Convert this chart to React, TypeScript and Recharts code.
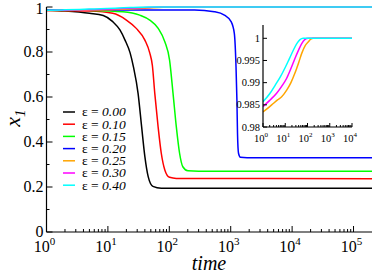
import React from 'react';
import { LineChart, Line, XAxis, YAxis } from 'recharts';

// series labels and colours (xmgrace palette)
const epsLabels = ['0.00', '0.10', '0.15', '0.20', '0.25', '0.30', '0.40'];
const colors = ['#000000', '#ff0000', '#00ff00', '#0000ff', '#ffa500', '#ff00ff', '#00ffff'];

// time points and x1 values
const tEps000 = [1, 2, 5, 8.4, 12, 15.7, 19, 23, 26, 31, 35.4, 40, 45.3, 54, 74, 200000];
const xEps000 = [0.986, 0.982, 0.972, 0.962, 0.935, 0.898, 0.853, 0.796, 0.735, 0.616, 0.468, 0.335, 0.246, 0.203, 0.195, 0.195];

const tEps010 = [1, 5, 12, 20, 29, 40, 48, 53, 58, 65.7, 74, 84.5, 101, 130, 200000];
const xEps010 = [0.986, 0.982, 0.972, 0.942, 0.905, 0.853, 0.796, 0.74, 0.616, 0.468, 0.35, 0.276, 0.243, 0.238, 0.237];

const tEps015 = [1, 5, 17.6, 33, 48, 66, 84.5, 101, 115, 130, 147, 166, 201, 300, 200000];
const xEps015 = [0.987, 0.985, 0.979, 0.964, 0.942, 0.905, 0.846, 0.764, 0.616, 0.468, 0.35, 0.29, 0.272, 0.27, 0.27];

const tEps020 = [1, 258, 541, 790, 1015, 1145, 1220, 1262, 1290, 1340, 1440, 1850, 200000];
const xEps020 = [0.987, 0.987, 0.979, 0.964, 0.935, 0.883, 0.735, 0.587, 0.44, 0.35, 0.332, 0.33, 0.33];

const tEps025 = [1, 2, 2.9, 4.5, 6.9, 11.6, 18, 27, 40, 55, 80, 109, 140, 182, 10000, 200000];
const xEps025 = [0.9834, 0.9846, 0.9853, 0.9861, 0.9868, 0.9883, 0.99, 0.9921, 0.9945, 0.9966, 0.9984, 0.9992, 0.9998, 1, 1, 1];

const tEps030 = [1, 2, 4.1, 7, 11.6, 18, 27, 40, 55, 75, 109, 10000, 200000];
const xEps030 = [0.9846, 0.986, 0.9876, 0.9892, 0.991, 0.9932, 0.9954, 0.9974, 0.9988, 0.9997, 1, 1, 1];

const tEps040 = [1, 2, 3.5, 6, 9.7, 15, 23, 33, 46, 63, 100, 10000, 200000];
const xEps040 = [0.9857, 0.9875, 0.9894, 0.9913, 0.9933, 0.9953, 0.9973, 0.9988, 0.9997, 1, 1, 1, 1];

// ticks
const mainXTicks = [
  1, 2, 3, 4, 5, 6, 7, 8, 9, 10, 20, 30, 40, 50, 60, 70, 80, 90, 100, 200, 300, 400, 500, 600, 700, 800, 900,
  1000, 2000, 3000, 4000, 5000, 6000, 7000, 8000, 9000, 10000, 20000, 30000, 40000, 50000, 60000, 70000, 80000,
  90000, 100000,
];
const mainYTicks = [0, 0.1, 0.2, 0.3, 0.4, 0.5, 0.6, 0.7, 0.8, 0.9, 1];
const mainYLabels = ['0', '', '0.2', '', '0.4', '', '0.6', '', '0.8', '', '1'];

const insetXTicks = mainXTicks.filter((t) => t <= 10000);
const insetYTicks = [0.98, 0.985, 0.99, 0.995, 1];
const insetYLabels = ['0.98', '0.985', '0.99', '0.995', '1'];

const tSeries = [tEps000, tEps010, tEps015, tEps020, tEps025, tEps030, tEps040];
const xSeries = [xEps000, xEps010, xEps015, xEps020, xEps025, xEps030, xEps040];
const series = tSeries.map((ts, i) => ts.map((t, j) => ({ t, v: xSeries[i][j] })));
const insetIdx = [4, 5, 6];

const FONT = "'Liberation Serif', 'Times New Roman', 'DejaVu Serif', serif";

const isDecade = (v: number) => Math.abs(Math.log10(v) - Math.round(Math.log10(v))) < 1e-9;

const makeXTick = (dir: number, major: number, minor: number, size: number, expSize: number, gap: number, labels: boolean) =>
  (props: any) => {
    const { x, y, payload } = props;
    const v = payload.value;
    const dec = isDecade(v);
    return (
      <g>
        <line x1={x} y1={y} x2={x} y2={y - dir * (dec ? major : minor)} stroke="#000" strokeWidth={1} />
        {labels && dec && (
          <text x={x - 2} y={y + gap} textAnchor="middle" style={{ fontFamily: FONT }} fontSize={size} fill="#000">
            10<tspan dy={-size * 0.42} fontSize={expSize}>{Math.round(Math.log10(v))}</tspan>
          </text>
        )}
      </g>
    );
  };

const makeYTick = (dir: number, ticks: number[], labels: string[] | null, major: number, minor: number, size: number) =>
  (props: any) => {
    const { x, y, payload } = props;
    const i = ticks.findIndex((t) => Math.abs(t - payload.value) < 1e-9);
    const lab = labels ? labels[i] : '';
    const isMajor = labels ? lab !== '' : i % 2 === 0 || ticks.length < 8;
    const nudge = i === ticks.length - 1 && size > 12 ? 1.5 : 0;
    return (
      <g>
        <line x1={x} y1={y} x2={x + dir * (isMajor ? major : minor)} y2={y} stroke="#000" strokeWidth={1} />
        {lab !== '' && labels && (
          <text x={x - 3} y={y + size * 0.34 + nudge} textAnchor="end" style={{ fontFamily: FONT }} fontSize={size} fill="#000">
            {lab}
          </text>
        )}
      </g>
    );
  };

const mainBottomTick = makeXTick(1, 6, 3, 16, 11, 20, true);
const mainTopTick = makeXTick(-1, 6, 3, 16, 11, 20, false);
const mainLeftTick = makeYTick(1, mainYTicks, mainYLabels, 6, 3, 16);
const mainRightTick = makeYTick(-1, mainYTicks, null, 6, 3, 16);

const insetBottomTick = makeXTick(1, 4, 2, 10.5, 7, 14.5, true);
const insetTopTick = makeXTick(-1, 4, 2, 10.5, 7, 14.5, false);
const insetLeftTick = makeYTick(1, insetYTicks, insetYLabels, 4, 2, 10.5);
const insetRightTick = makeYTick(-1, insetYTicks, null, 4, 2, 10.5);

const axisLine = { stroke: '#000', strokeWidth: 1.2 };

export default function App() {
  return (
    <div style={{ position: 'absolute', left: 0, top: 0, width: 374, height: 275, background: '#fff' }}>
      <LineChart width={374} height={275} margin={{ top: 7, right: 2, bottom: 0, left: 6 }}>
        <XAxis
          type="number"
          dataKey="t"
          scale="log"
          domain={[1, 200000]}
          ticks={mainXTicks}
          interval={0}
          tick={mainBottomTick}
          tickLine={false}
          tickSize={0}
          tickMargin={0}
          height={43}
          axisLine={axisLine}
        />
        <XAxis
          xAxisId="top"
          orientation="top"
          mirror
          type="number"
          dataKey="t"
          scale="log"
          domain={[1, 200000]}
          allowDataOverflow
          ticks={mainXTicks}
          interval={0}
          tick={mainTopTick}
          tickLine={false}
          tickSize={0}
          tickMargin={0}
          height={0}
          axisLine={axisLine}
        />
        <YAxis
          type="number"
          domain={[0, 1]}
          ticks={mainYTicks}
          interval={0}
          tick={mainLeftTick}
          tickLine={false}
          tickSize={0}
          tickMargin={0}
          width={40.5}
          axisLine={axisLine}
        />
        <YAxis
          yAxisId="r"
          orientation="right"
          mirror
          type="number"
          domain={[0, 1]}
          allowDataOverflow
          ticks={mainYTicks}
          interval={0}
          tick={mainRightTick}
          tickLine={false}
          tickSize={0}
          tickMargin={0}
          width={0}
          axisLine={axisLine}
        />
        {series.map((d, i) => (
          <Line
            key={epsLabels[i]}
            data={d}
            dataKey="v"
            type="monotone"
            stroke={colors[i]}
            strokeWidth={1.5}
            dot={false}
            isAnimationActive={false}
          />
        ))}
      </LineChart>

      <div style={{ position: 'absolute', left: 220, top: 20, width: 140, height: 130 }}>
        <LineChart width={140} height={130} margin={{ top: 5, right: 8, bottom: 0, left: 3 }}>
          <XAxis
            type="number"
            dataKey="t"
            scale="log"
            domain={[1, 10000]}
            allowDataOverflow
            ticks={insetXTicks}
            interval={0}
            tick={insetBottomTick}
            tickLine={false}
            tickSize={0}
            tickMargin={0}
            height={23}
            axisLine={axisLine}
          />
          <XAxis
            xAxisId="top"
            orientation="top"
            mirror
            type="number"
            dataKey="t"
            scale="log"
            domain={[1, 10000]}
            allowDataOverflow
            ticks={insetXTicks}
            interval={0}
            tick={insetTopTick}
            tickLine={false}
            tickSize={0}
            tickMargin={0}
            height={0}
            axisLine={axisLine}
          />
          <YAxis
            type="number"
            domain={[0.98, 1.003]}
            allowDataOverflow
            ticks={insetYTicks}
            interval={0}
            tick={insetLeftTick}
            tickLine={false}
            tickSize={0}
            tickMargin={0}
            width={40}
            axisLine={axisLine}
          />
          <YAxis
            yAxisId="r"
            orientation="right"
            mirror
            type="number"
            domain={[0.98, 1.003]}
            allowDataOverflow
            ticks={insetYTicks}
            interval={0}
            tick={insetRightTick}
            tickLine={false}
            tickSize={0}
            tickMargin={0}
            width={0}
            axisLine={axisLine}
          />
          {insetIdx.map((i) => (
            <Line
              key={epsLabels[i]}
              data={series[i]}
              dataKey="v"
              type="monotone"
              stroke={colors[i]}
              strokeWidth={1.5}
              dot={false}
              isAnimationActive={false}
            />
          ))}
        </LineChart>
      </div>

      <svg width={374} height={275} style={{ position: 'absolute', left: 0, top: 0, pointerEvents: 'none', fontFamily: FONT }}>
        <text x={209} y={270} textAnchor="middle" fontStyle="italic" fontSize={20} fill="#000">
          time
        </text>
        <text transform="translate(20,118) rotate(-90)" textAnchor="middle" fontStyle="italic" fontSize={22} fill="#000">
          x<tspan dy={5} fontSize={15}>1</tspan>
        </text>
        {epsLabels.map((lab, i) => (
          <g key={lab}>
            <line x1={63} x2={75} y1={112 + i * 12.2} y2={112 + i * 12.2} stroke={colors[i]} strokeWidth={1.5} />
            <text x={82} y={112 + i * 12.2 + 4.3} fontSize={13.5} fill="#000">
              ε = <tspan fontStyle="italic">{lab}</tspan>
            </text>
          </g>
        ))}
      </svg>
    </div>
  );
}
